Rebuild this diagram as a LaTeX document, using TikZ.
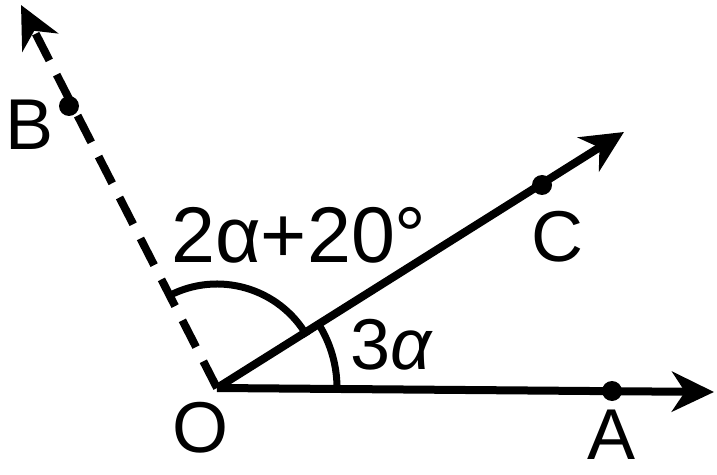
\documentclass[tikz,border=0pt]{standalone}
\usepackage{fontspec}
\setmainfont{Liberation Sans}
\usetikzlibrary{arrows.meta,calc}
\begin{document}
\begin{tikzpicture}[x=1pt,y=1pt,
  ray/.style={line width=8pt,-{Stealth[length=42pt,width=40pt,inset=13pt]}},
  dray/.style={ray,dash pattern=on 30pt off 16pt},
  arcline/.style={line width=7pt},
  dot/.style={circle,fill=black,inner sep=0pt,minimum size=20pt},
  lab/.style={font=\fontsize{72}{80}\selectfont,inner sep=0pt}]
\useasboundingbox (0,0) rectangle (717,474);
\coordinate (O) at (217,86);
\coordinate (Atip) at (714,82);
\coordinate (Ctip) at (624,342);
\coordinate (Btip) at (21,469);
\draw[ray] (O) -- (Atip);
\draw[ray] (O) -- (Ctip);
\draw[dray] (O) -- (Btip);
\node[dot] (A) at (612,83) {};
\node[dot] (C) at (542,289) {};
\node[dot] (B) at (69,368) {};
\draw[arcline] ($(O)+(0:120)$) arc[start angle=0,end angle=32,radius=120];
\draw[arcline] ($(O)+(30:104)$) arc[start angle=30,end angle=117.5,radius=104];
\node[lab] (lA) at (612,39) {A};
\node[lab] (lC) at (557,237) {C};
\node[lab] (lB) at (30,349) {B};
\node[lab] (lO) at (200,46) {O};
\node[lab,font=\fontsize{79}{84}\selectfont] (l2) at (299,239) {2α+20°};
\node[lab] (l3) at (392,129) {3\textit{α}};
\end{tikzpicture}
\end{document}
